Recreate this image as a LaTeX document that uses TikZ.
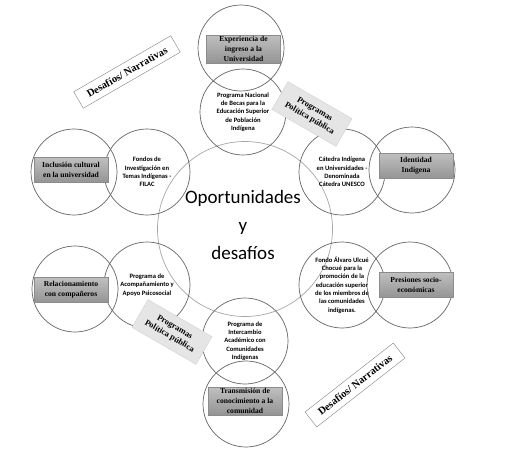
\documentclass[tikz,border=0pt]{standalone}
\usepackage{fontspec}
\setmainfont{Carlito}
\newfontfamily\boxfont{Liberation Serif}
\tikzset{
  ring/.style={circle, draw=black!60, line width=0.7pt, minimum size=86pt, inner sep=0pt, align=center,
    font=\bfseries\fontsize{6.6}{8.3}\selectfont},
  theme/.style={draw=black!45, top color=black!25, bottom color=black!42, minimum width=74pt,
    minimum height=25pt, inner sep=1pt, align=center, font=\boxfont\bfseries\fontsize{7.6}{10.3}\selectfont},
  policy/.style={fill=black!10, draw=black!18, rotate=-30, minimum width=74pt, minimum height=32pt,
    inner sep=1pt, align=center, font=\boxfont\bfseries\fontsize{8.4}{10.5}\selectfont},
  narrative/.style={draw=black!50, fill=white, rotate=30, minimum width=112pt, minimum height=19pt,
    inner sep=1pt, font=\boxfont\bfseries\fontsize{10.5}{12}\selectfont}
}

\begin{document}
\begin{tikzpicture}[x=1pt, y=-1pt]
  \useasboundingbox (0,0) rectangle (512,458);

  % centre
  \node[circle, draw=black!35, line width=0.7pt, minimum size=175pt] (core) at (245,229) {};
  \node[font=\fontsize{19}{28}\selectfont, align=center] (coretext) at (243,225) {Oportunidades\\y\\desaf\'ios};

  % programmes
  \node[ring] (becas) at (243,112) {Programa Nacional\\de Becas para la\\Educaci\'on Superior\\de Poblaci\'on\\Ind\'igena};
  \node[ring] (filac) at (147,172) {Fondos de\\Investigaci\'on en\\Temas Ind\'igenas -\\FILAC};
  \node[ring] (catedra) at (342,172) {C\'atedra Ind\'igena\\en Universidades -\\Denominada\\C\'atedra UNESCO};
  \node[ring] (apoyo) at (147,285) {Programa de\\Acompa\~namiento y\\Apoyo Psicosocial};
  \node[ring] (ulcue) at (342,285) {Fondo \'Alvaro Ulcu\'e\\Chocu\'e para la\\promoci\'on de la\\educaci\'on superior\\de los miembros de\\las comunidades\\ind\'igenas.};
  \node[ring] (intercambio) at (245,341) {Programa de\\Intercambio\\Acad\'emico con\\Comunidades\\Ind\'igenas};

  % challenges
  \node[ring] (ingreso) at (241,48) {};
  \node[ring] (inclusion) at (74,172) {};
  \node[ring] (identidad) at (412,170) {};
  \node[ring] (companeros) at (75,289) {};
  \node[ring] (presiones) at (410,285) {};
  \node[ring] (transmision) at (246,404) {};

  \node[theme] (ingresobox) at (243.5,49) {Experiencia de\\ingreso a la\\Universidad};
  \node[theme] (inclusionbox) at (71,170) {Inclusi\'on cultural\\en la universidad};
  \node[theme] (identidadbox) at (416,166) {Identidad\\Ind\'igena};
  \node[theme] (companerosbox) at (71,290) {Relacionamiento\\con compa\~neros};
  \node[theme] (presionesbox) at (416,285) {Presiones socio-\\econ\'omicas};
  \node[theme] (transmisionbox) at (245,401) {Transmisi\'on de\\conocimiento a la\\comunidad};

  % tags
  \node[policy] (politica1) at (312,114) {Programas\\Pol\'itica p\'ublica};
  \node[policy] (politica2) at (172,332) {Programas\\Pol\'itica p\'ublica};
  \node[narrative] (narrativa1) at (127,72) {Desaf\'ios/ Narrativas};
  \node[narrative, rotate=8] (narrativa2) at (355,385) {Desaf\'ios/ Narrativas};
\end{tikzpicture}
\end{document}
